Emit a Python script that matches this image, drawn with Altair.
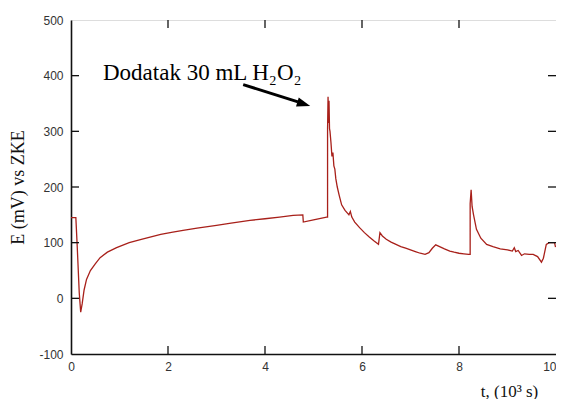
import altair as alt
import pandas as pd

# time in 10^3 s
t_vals = [0.00, 0.10, 0.13, 0.17, 0.20, 0.23, 0.27, 0.32, 0.40, 0.50, 0.60, 0.75, 0.94,
          1.20, 1.45, 1.63, 1.85, 2.10, 2.31, 2.60, 3.00, 3.30, 3.69, 4.00, 4.30, 4.58,
          4.78, 4.79, 5.00, 5.27, 5.29, 5.29, 5.30, 5.31, 5.32, 5.33, 5.34, 5.36, 5.38,
          5.40, 5.42, 5.44, 5.46, 5.49, 5.53, 5.58, 5.65, 5.70, 5.73, 5.76, 5.79, 5.85,
          5.95, 6.05, 6.15, 6.25, 6.34, 6.37, 6.42, 6.50, 6.60, 6.70, 6.80, 6.90, 7.00,
          7.10, 7.20, 7.30, 7.38, 7.45, 7.52, 7.60, 7.70, 7.81, 7.90, 8.00, 8.10, 8.20,
          8.23, 8.23, 8.25, 8.27, 8.30, 8.36, 8.45, 8.57, 8.70, 8.85, 9.00, 9.10, 9.14,
          9.17, 9.22, 9.29, 9.35, 9.45, 9.53, 9.62, 9.70, 9.74, 9.80, 9.86, 9.97, 9.99]
# potential E in mV vs ZKE
e_vals = [145, 145, 90, 10, -25, -10, 15, 34, 50, 62, 73, 83, 91,
          100, 106, 110, 115, 119, 122, 126, 131, 135, 140, 143, 146, 149,
          150, 137, 141, 146, 146, 305, 362, 315, 355, 305, 300, 280, 255,
          262, 238, 232, 215, 200, 185, 168, 158, 153, 150, 156, 146, 137,
          127, 118, 110, 103, 97, 118, 112, 106, 101, 97, 93, 90, 87,
          84, 81, 79, 82, 90, 96, 93, 89, 85, 83, 81, 80, 79,
          79, 170, 195, 165, 150, 124, 108, 97, 93, 89, 87, 85, 91,
          84, 86, 77, 80, 79, 79, 75, 65, 72, 97, 100, 100, 92]

x_ticks = [2, 4, 6, 8]
y_ticks = [0, 100, 200, 300, 400]
x_labels = [0, 2, 4, 6, 8, 10]
y_labels = [-100, 0, 100, 200, 300, 400, 500]

annot_text = ["Dodatak 30 mL H\u2082O\u2082"]
annot_x = [0.66]
annot_y = [393]
arrow_x = [3.55, 4.68]
arrow_y = [384, 353]
head_x = [4.80]
head_y = [349]

W, H = 485, 334
xs = alt.Scale(domain=[0, 10], nice=False, zero=False)
ys = alt.Scale(domain=[-100, 500], nice=False, zero=False)

df = pd.DataFrame({"t": t_vals, "E": e_vals, "i": list(range(len(t_vals)))})

lab = "datum.value < 0 ? '-' + abs(datum.value) : '' + datum.value"

curve = alt.Chart(df).mark_line(color="#a8201a", strokeWidth=1.3, clip=True).encode(
    x=alt.X("t:Q", scale=xs,
            axis=alt.Axis(values=x_labels, labelExpr=lab, grid=False, ticks=False,
                          labelFlush=False,
                          labelAlign=alt.ExprRef(expr="datum.value >= 10 ? 'right' : 'center'"),
                          domain=True, domainColor="#111", domainWidth=1.6,
                          labelFont="Liberation Sans", labelFontSize=12, labelColor="#333",
                          labelPadding=7,
                          title="t, (10\u00b3 s)", titleFont="Liberation Serif",
                          titleFontSize=17, titleFontWeight="normal", titleColor="#111",
                          titleX=438, titleY=42, titleAlign="center",
                          titleBaseline="alphabetic")),
    y=alt.Y("E:Q", scale=ys,
            axis=alt.Axis(values=y_labels, labelExpr=lab, grid=False, ticks=False,
                          labelFlush=False,
                          domain=True, domainColor="#111", domainWidth=1.6,
                          labelFont="Liberation Sans", labelFontSize=12, labelColor="#333",
                          labelPadding=8,
                          title="E (mV) vs ZKE", titleFont="Liberation Serif",
                          titleFontSize=18, titleFontWeight="normal", titleColor="#111",
                          titleX=-53, titleY=H / 2, titleAngle=270,
                          titleAlign="center", titleBaseline="middle")),
    order="i:Q",
)

xt = pd.DataFrame({"v": x_ticks})
yt = pd.DataFrame({"v": y_ticks})

bottom_ticks = alt.Chart(xt).mark_rule(color="#111", strokeWidth=1.3).encode(
    x=alt.X("v:Q", scale=xs), y=alt.value(H), y2=alt.value(H - 8))
top_ticks = alt.Chart(xt).mark_rule(color="#111", strokeWidth=1.3).encode(
    x=alt.X("v:Q", scale=xs), y=alt.value(0), y2=alt.value(8))
left_ticks = alt.Chart(yt).mark_rule(color="#111", strokeWidth=1.3).encode(
    y=alt.Y("v:Q", scale=ys), x=alt.value(0), x2=alt.value(8))
right_ticks = alt.Chart(yt).mark_rule(color="#111", strokeWidth=1.3).encode(
    y=alt.Y("v:Q", scale=ys), x=alt.value(W), x2=alt.value(W - 8))

txt = alt.Chart(pd.DataFrame({"x": annot_x, "y": annot_y, "s": annot_text})).mark_text(
    font="Liberation Serif", fontSize=23, color="#000", align="left", baseline="alphabetic"
).encode(x=alt.X("x:Q", scale=xs), y=alt.Y("y:Q", scale=ys), text="s:N")

shaft = alt.Chart(pd.DataFrame({"x": arrow_x, "y": arrow_y})).mark_line(
    color="#000", strokeWidth=3).encode(x=alt.X("x:Q", scale=xs), y=alt.Y("y:Q", scale=ys))

head = alt.Chart(pd.DataFrame({"x": head_x, "y": head_y})).mark_point(
    shape="M0,-1L0.7,1L-0.7,1Z", filled=True, color="#000", opacity=1, size=180,
    angle=107).encode(x=alt.X("x:Q", scale=xs), y=alt.Y("y:Q", scale=ys))

chart = alt.layer(curve, bottom_ticks, top_ticks, left_ticks, right_ticks, shaft, head, txt).properties(
    width=W, height=H,
    autosize=alt.AutoSizeParams(type="none"),
    padding={"left": 63, "top": 12, "right": 0, "bottom": 45},
).configure_view(stroke="#111", strokeWidth=1.2).configure(background="white")

chart.save("out.html", embed_options={"renderer": "svg", "actions": False})
